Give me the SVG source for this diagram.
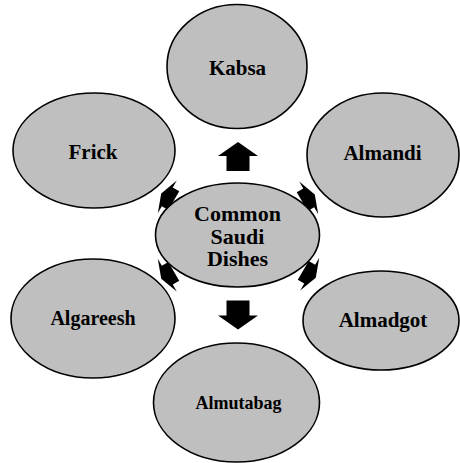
<svg xmlns="http://www.w3.org/2000/svg" width="460" height="463" viewBox="0 0 460 463">
  <defs>
    <style>
      .node { fill: #bfbfbf; stroke: #000; stroke-width: 1.6; }
      .label { font-family: "Liberation Serif", "Times New Roman", serif; font-weight: bold; fill: #000; text-anchor: middle; }
      .arrow { fill: #000; }
    </style>
    <!-- block arrow pointing up, centred on the origin -->
    <polygon id="blockArrow" points="0,-14.5 20,-0.5 11.5,-0.5 11.5,14.5 -11.5,14.5 -11.5,-0.5 -20,-0.5"/>
  </defs>
  <rect width="460" height="463" fill="#fff"/>

  <!-- arrows from the hub to each dish, drawn beneath the ellipses;
       the diagonal ones are squeezed into the narrow gaps -->
  <g id="connectors" class="arrow">
    <use href="#blockArrow" transform="translate(238,156.5)"/>
    <use href="#blockArrow" transform="translate(238,315) rotate(180)"/>
    <use href="#blockArrow" transform="translate(167.5,197) rotate(-60) scale(0.95,0.5)"/>
    <use href="#blockArrow" transform="translate(308.5,198) rotate(60) scale(0.95,0.5)"/>
    <use href="#blockArrow" transform="translate(167.5,275) rotate(-120) scale(0.95,0.5)"/>
    <use href="#blockArrow" transform="translate(309.5,274) rotate(120) scale(0.95,0.5)"/>
  </g>

  <g id="hub">
    <ellipse class="node" cx="237.5" cy="235" rx="82" ry="52"/>
    <text class="label" font-size="22" x="237.5" y="221">Common</text>
    <text class="label" font-size="22" x="237.5" y="243.5">Saudi</text>
    <text class="label" font-size="22" x="237.5" y="266">Dishes</text>
  </g>

  <g id="kabsa">
    <ellipse class="node" cx="237" cy="66.5" rx="70" ry="62"/>
    <text class="label" font-size="21" x="237.5" y="75">Kabsa</text>
  </g>

  <g id="almandi">
    <ellipse class="node" cx="383" cy="155" rx="76" ry="62"/>
    <text class="label" font-size="21" x="382.5" y="160">Almandi</text>
  </g>

  <g id="almadgot">
    <ellipse class="node" cx="381" cy="320.5" rx="78" ry="49.5"/>
    <text class="label" font-size="21" x="383" y="327">Almadgot</text>
  </g>

  <g id="almutabag">
    <ellipse class="node" cx="236.5" cy="402.5" rx="83" ry="59.5"/>
    <text class="label" font-size="18" x="238.5" y="409">Almutabag</text>
  </g>

  <g id="algareesh">
    <ellipse class="node" cx="93" cy="318.5" rx="82" ry="59.5"/>
    <text class="label" font-size="20" x="93" y="325">Algareesh</text>
  </g>

  <g id="frick">
    <ellipse class="node" cx="94" cy="150.5" rx="81" ry="57.5"/>
    <text class="label" font-size="21" x="93" y="159">Frick</text>
  </g>
</svg>
